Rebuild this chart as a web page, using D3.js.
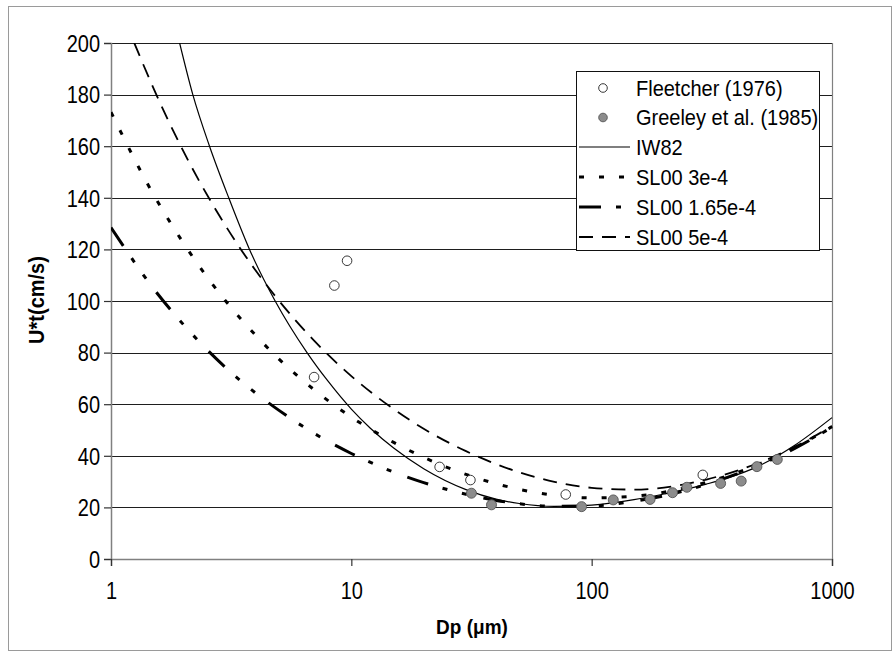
<!DOCTYPE html>
<html>
<head>
<meta charset="utf-8">
<script src="https://cdn.jsdelivr.net/npm/d3@7"></script>
<style>
  html, body { margin: 0; padding: 0; background: #fff; }
  svg { display: block; font-family: "Liberation Sans", Arial, sans-serif; }
</style>
</head>
<body>
<svg id="chart" width="892" height="654"></svg>
<script>
// Threshold friction velocity vs particle diameter
const fleetD = [7.0, 8.5, 9.6, 23.3, 31.3, 78, 290];
const fleetU = [70.5, 106, 115.6, 35.7, 30.6, 25, 32.6];

const greeleyD = [31.6, 38.3, 90.8, 123, 175, 217, 249, 344, 419, 487, 592];
const greeleyU = [25.5, 21, 20.3, 22.9, 23.1, 25.7, 27.8, 29.3, 30.2, 35.8, 38.6];

const iw82D = [1.93, 2.19, 2.57, 3.09, 3.77, 4.82, 6.54, 8, 10, 12, 15, 20, 30, 40, 50, 70, 100, 150, 200, 300, 500, 700, 1000];
const iw82U = [200, 180, 160, 140, 120, 100, 80, 68.9, 58.1, 50.7, 43.0, 35.0, 26.9, 23.2, 21.5, 20.4, 20.9, 23, 25.2, 29, 36.2, 44.1, 54.8];

const slD = [1, 1.5, 2, 3, 4, 5, 7, 10, 15, 20, 30, 40, 50, 70, 100, 150, 200, 300, 500, 700, 1000];
const sl3U = [173.2, 141.4, 122.5, 100.0, 86.7, 77.5, 65.6, 55.0, 45.2, 39.4, 32.8, 29.2, 27.0, 24.7, 23.7, 24.3, 25.9, 29.7, 36.9, 43.2, 51.3];
const sl165U = [128.5, 104.9, 90.9, 74.2, 64.3, 57.6, 48.7, 40.9, 33.7, 29.6, 25.1, 22.7, 21.4, 20.4, 20.6, 22.4, 24.5, 28.9, 36.5, 42.9, 51.1];
const sl5D = [1.25, 1.5, 2, 3, 4, 5, 7, 10, 15, 20, 30, 40, 50, 70, 100, 150, 200, 300, 500, 700, 1000];
const sl5U = [200.0, 182.6, 158.1, 129.1, 111.8, 100.1, 84.6, 70.9, 58.1, 50.5, 41.8, 36.8, 33.6, 29.9, 27.6, 26.9, 27.7, 30.8, 37.4, 43.5, 51.5];

const xTicks = [1, 10, 100, 1000];
const yTicks = [0, 20, 40, 60, 80, 100, 120, 140, 160, 180, 200];

const xTitle = "Dp (μm)";
const yTitle = "U*t(cm/s)";

const seriesLines = [
  { name: "IW82", D: iw82D, U: iw82U, width: 1.2, dash: null },
  { name: "SL00 3e-4", D: slD, U: sl3U, width: 3, dash: "5,15" },
  { name: "SL00 1.65e-4", D: slD, U: sl165U, width: 3, dash: "22,15,5,15,5,17" },
  { name: "SL00 5e-4", D: sl5D, U: sl5U, width: 1.8, dash: "14,9" }
];

const svg = d3.select("#chart");
const plotL = 111, plotR = 832, plotT = 43, plotB = 559;
const stretch = "scale(1,1.15)";

const x = d3.scaleLog().domain([1, 1000]).range([plotL, plotR]);
const y = d3.scaleLinear().domain([0, 200]).range([plotB, plotT]);

// outer frame
svg.append("rect").attr("x", 8.5).attr("y", 6.5).attr("width", 883).attr("height", 644)
  .attr("fill", "#fff").attr("stroke", "#9a9a9a").attr("stroke-width", 1);

// horizontal gridlines
svg.append("g").selectAll("line").data(yTicks.filter(v => v > 0)).join("line")
  .attr("x1", plotL).attr("x2", plotR)
  .attr("y1", d => Math.round(y(d)) + 0.5).attr("y2", d => Math.round(y(d)) + 0.5)
  .attr("stroke", "#1e1e1e").attr("stroke-width", 1);

// right edge of plot area
svg.append("line").attr("x1", plotR + 0.5).attr("x2", plotR + 0.5).attr("y1", plotT).attr("y2", plotB)
  .attr("stroke", "#808080").attr("stroke-width", 1.2);

// axes
const yAxis = svg.append("g").attr("transform", `translate(${plotL},0)`)
  .call(d3.axisLeft(y).tickValues(yTicks).tickSize(7).tickFormat(d3.format("d")));
const xAxis = svg.append("g").attr("transform", `translate(0,${plotB})`)
  .call(d3.axisBottom(x).tickValues(xTicks).tickSize(7).tickFormat(d3.format("d")));

[yAxis, xAxis].forEach(a => {
  a.select(".domain").attr("stroke", "#808080").attr("stroke-width", 1.5);
  a.selectAll(".tick line").attr("stroke", "#333").attr("stroke-width", 1.2);
  a.selectAll(".tick text").attr("fill", "#000").attr("font-size", 20)
    .attr("font-family", "'Liberation Sans', Arial, sans-serif")
    .attr("x", null).attr("y", null).attr("dy", null);
});
// slightly tall tick labels
yAxis.selectAll(".tick text").attr("text-anchor", "end")
  .attr("transform", `translate(-11,8.3) ${stretch}`);
xAxis.selectAll(".tick text").attr("text-anchor", "middle")
  .attr("transform", `translate(0,40) ${stretch}`);

// clip for curves
svg.append("clipPath").attr("id", "plotclip").append("rect")
  .attr("x", plotL).attr("y", plotT).attr("width", plotR - plotL + 6).attr("height", plotB - plotT);

const line = d3.line().x(d => x(d[0])).y(d => y(d[1])).curve(d3.curveMonotoneX);

const lineG = svg.append("g").attr("clip-path", "url(#plotclip)");
seriesLines.forEach(s => {
  lineG.append("path")
    .attr("d", line(s.D.map((d, i) => [d, s.U[i]])))
    .attr("fill", "none").attr("stroke", "#000")
    .attr("stroke-width", s.width)
    .attr("stroke-dasharray", s.dash);
});

// data points
svg.append("g").selectAll("circle").data(fleetD.map((d, i) => [d, fleetU[i]])).join("circle")
  .attr("cx", d => x(d[0])).attr("cy", d => y(d[1])).attr("r", 4.8)
  .attr("fill", "#fff").attr("stroke", "#222").attr("stroke-width", 0.9);
svg.append("g").selectAll("circle").data(greeleyD.map((d, i) => [d, greeleyU[i]])).join("circle")
  .attr("cx", d => x(d[0])).attr("cy", d => y(d[1])).attr("r", 5)
  .attr("fill", "#8c8c8c").attr("stroke", "#555").attr("stroke-width", 0.9);

// axis titles
svg.append("text").attr("transform", `translate(472,634) scale(1,1.1)`).attr("text-anchor", "middle")
  .attr("font-size", 19).attr("font-weight", "bold").text(xTitle);
svg.append("text").attr("transform", "translate(44,300) rotate(-90) scale(1,1.1)").attr("text-anchor", "middle")
  .attr("font-size", 20).attr("font-weight", "bold").text(yTitle);

// legend
const leg = svg.append("g");
leg.append("rect").attr("x", 576.5).attr("y", 71.5).attr("width", 243).attr("height", 179)
  .attr("fill", "#fff").attr("stroke", "#111").attr("stroke-width", 1);
const rowY = [88, 117.5, 147, 177, 207, 237];
const legendNames = ["Fleetcher (1976)", "Greeley et al. (1985)"].concat(seriesLines.map(s => s.name));
leg.append("circle").attr("cx", 603).attr("cy", rowY[0]).attr("r", 4.3)
  .attr("fill", "#fff").attr("stroke", "#222").attr("stroke-width", 0.9);
leg.append("circle").attr("cx", 603).attr("cy", rowY[1]).attr("r", 4.3)
  .attr("fill", "#8c8c8c").attr("stroke", "#555").attr("stroke-width", 0.9);
seriesLines.forEach((s, i) => {
  leg.append("line").attr("x1", 579).attr("x2", 630)
    .attr("y1", rowY[i + 2]).attr("y2", rowY[i + 2])
    .attr("stroke", "#000").attr("stroke-width", s.width).attr("stroke-dasharray", s.dash);
});
legendNames.forEach((n, i) => {
  leg.append("text").attr("transform", `translate(636,${rowY[i] + 7.5}) scale(1,1.08)`)
    .attr("font-size", 20).text(n);
});
</script>
</body>
</html>
